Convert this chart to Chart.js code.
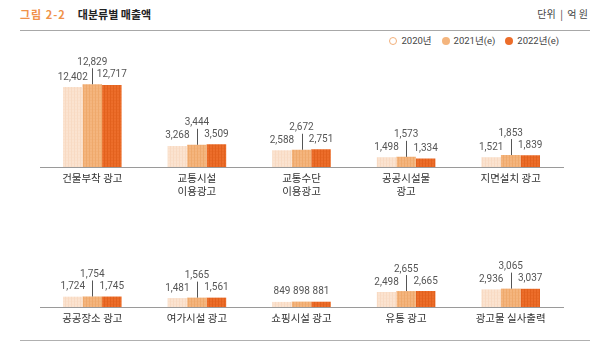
<!DOCTYPE html>
<html>
<head>
<meta charset="utf-8">
<script src="https://cdn.jsdelivr.net/npm/chart.js@4/dist/chart.umd.min.js"></script>
<style>
  html, body { margin:0; padding:0; background:#fff; }
  #wrap { position:relative; width:600px; height:353px; overflow:hidden; font-family:'Noto Sans CJK KR','Noto Sans',sans-serif; }
  .abs { position:absolute; }
  #title { left:20px; top:6px; font-size:11px; font-weight:bold; white-space:nowrap; line-height:16px; }
  #title .fig { color:#f0924a; letter-spacing:1px; margin-right:12px; }
  #title .name { color:#222; }
  #unit { right:12px; top:6px; font-size:10px; color:#444; line-height:16px; white-space:nowrap; }
  #topline { left:20px; top:30px; width:570px; height:1px; background:#a8a8a8; }
  #botline { left:20px; top:340px; width:570px; height:1px; background:#b0b0b0; }
  #legend { right:41px; top:34px; font-size:9.5px; color:#444; display:flex; align-items:center; white-space:nowrap; line-height:14px; font-family:Roboto,'Noto Sans CJK KR',sans-serif; }
  #legend .item { display:flex; align-items:center; margin-left:10px; }
  #legend .dot { width:8px; height:8px; border-radius:50%; margin-right:4px; box-sizing:border-box; }
  canvas { position:absolute; left:0; }
</style>
</head>
<body>
<div id="wrap">
  <div id="title" class="abs"><span class="fig">그림 2-2</span><span class="name">대분류별 매출액</span></div>
  <div id="unit" class="abs">단위 &nbsp;|&nbsp; 억 원</div>
  <div id="topline" class="abs"></div>
  <div id="legend" class="abs"></div>
  <canvas id="c1" width="600" height="150" style="top:47px;width:600px;height:150px;"></canvas>
  <canvas id="c2" width="600" height="140" style="top:197px;width:600px;height:140px;"></canvas>
  <div id="botline" class="abs"></div>
</div>
<script>
// ---- data ----
const seriesLabels = ['2020년', '2021년(e)', '2022년(e)'];
const categoriesRow1 = [['건물부착 광고'], ['교통시설', '이용광고'], ['교통수단', '이용광고'], ['공공시설물', '광고'], ['지면설치 광고']];
const values2020Row1 = [12402, 3268, 2588, 1498, 1521];
const values2021Row1 = [12829, 3444, 2672, 1573, 1853];
const values2022Row1 = [12717, 3509, 2751, 1334, 1839];
const categoriesRow2 = ['공공장소 광고', '여가시설 광고', '쇼핑시설 광고', '유통 광고', '광고물 실사출력'];
const values2020Row2 = [1724, 1481, 849, 2498, 2936];
const values2021Row2 = [1754, 1565, 898, 2655, 3065];
const values2022Row2 = [1745, 1561, 881, 2665, 3037];

// ---- styles ----
const seriesColors = ['#fbe3d0', '#f4b57e', '#ec6d2a'];
const stripeColors = ['#f8dac3', '#efa96c', '#e2611e'];

function stripePattern(base, stripe) {
  const c = document.createElement('canvas');
  c.width = 3; c.height = 3;
  const x = c.getContext('2d');
  x.fillStyle = base; x.fillRect(0, 0, 3, 3);
  x.fillStyle = stripe; x.fillRect(2, 0, 1, 3);
  x.globalAlpha = 0.35; x.fillRect(0, 2, 3, 1);
  return x.createPattern(c, 'repeat');
}

// legend (HTML, built from series labels/colors)
const legendEl = document.getElementById('legend');
seriesLabels.forEach((lab, i) => {
  const it = document.createElement('span'); it.className = 'item';
  const d = document.createElement('span'); d.className = 'dot';
  if (i === 0) { d.style.background = '#fff'; d.style.border = '1.3px solid #f2b07a'; }
  else { d.style.background = seriesColors[i]; }
  const t = document.createElement('span'); t.textContent = lab;
  it.appendChild(d); it.appendChild(t); legendEl.appendChild(it);
});

const LABEL_FONT = '10px Roboto, "Liberation Sans", sans-serif';
const fmt = v => v.toLocaleString('en-US');

const valueLabels = {
  id: 'valueLabels',
  afterDatasetsDraw(chart) {
    const ctx = chart.ctx;
    ctx.save();
    ctx.font = LABEL_FONT;
    ctx.fillStyle = '#555';
    ctx.textAlign = 'center';
    ctx.textBaseline = 'middle';
    const metas = [0, 1, 2].map(i => chart.getDatasetMeta(i));
    const n = chart.data.labels.length;
    for (let j = 0; j < n; j++) {
      const bars = metas.map(m => m.data[j]);
      const vals = [0, 1, 2].map(i => chart.data.datasets[i].data[j]);
      const midW = ctx.measureText(fmt(vals[1])).width;
      const raise = midW > bars[1].width - 1;
      [0, 2].forEach(i => {
        ctx.fillText(fmt(vals[i]), bars[i].x, bars[i].y - 10);
      });
      if (raise) {
        const ly = bars[1].y - 22;
        ctx.fillText(fmt(vals[1]), bars[1].x, ly);
        ctx.strokeStyle = '#555';
        ctx.lineWidth = 1;
        ctx.beginPath();
        const lx = Math.round(bars[1].x) + 0.5;
        ctx.moveTo(lx, ly + 6);
        ctx.lineTo(lx, bars[1].y);
        ctx.stroke();
      } else {
        ctx.fillText(fmt(vals[1]), bars[1].x, bars[1].y - 10);
      }
    }
    ctx.restore();
  }
};

function makeChart(id, labels, series, padTop) {
  return new Chart(document.getElementById(id), {
    type: 'bar',
    data: {
      labels: labels,
      datasets: series.map((d, i) => ({
        label: seriesLabels[i],
        data: d,
        backgroundColor: stripePattern(seriesColors[i], stripeColors[i]),
        borderWidth: 0,
        barPercentage: 1.0,
        categoryPercentage: 0.56
      }))
    },
    options: {
      responsive: false,
      animation: false,
      devicePixelRatio: 1,
      layout: { padding: { left: 40, right: 37, top: padTop, bottom: 0 } },
      plugins: { legend: { display: false }, tooltip: { enabled: false } },
      scales: {
        x: {
          grid: { display: false, drawTicks: false },
          border: { display: true, color: '#9a9a9a', width: 1 },
          ticks: {
            color: '#333',
            font: { family: '"Noto Sans CJK KR", sans-serif', size: 10.5, lineHeight: 1.25 },
            padding: 4,
            maxRotation: 0,
            autoSkip: false
          },
          afterFit: s => { s.height = 30; }
        },
        y: { display: false, min: 0, max: 14000 }
      }
    },
    plugins: [valueLabels]
  });
}

makeChart('c1', categoriesRow1, [values2020Row1, values2021Row1, values2022Row1], 29.7);
makeChart('c2', categoriesRow2, [values2020Row2, values2021Row2, values2022Row2], 26);
</script>
</body>
</html>
